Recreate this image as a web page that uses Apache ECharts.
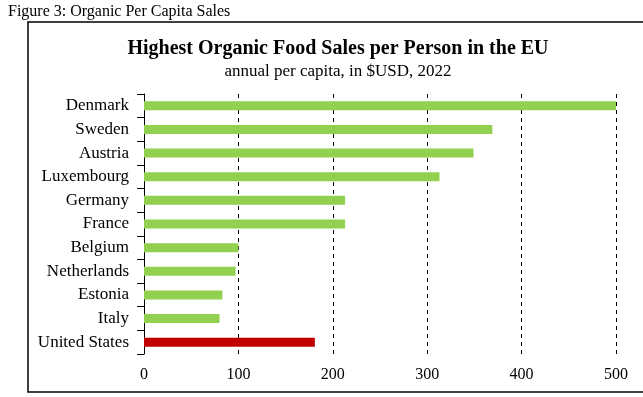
<!DOCTYPE html>
<html>
<head>
<meta charset="utf-8">
<script src="https://cdn.jsdelivr.net/npm/echarts@6/dist/echarts.min.js"></script>
<style>
html,body{margin:0;padding:0;background:#fff;}
#chart{width:643px;height:397px;}
</style>
</head>
<body>
<div id="chart"></div>
<script>
var categories = ["Denmark","Sweden","Austria","Luxembourg","Germany","France","Belgium","Netherlands","Estonia","Italy","United States"];
var sales = [500, 369, 349, 313, 213, 213, 100, 97, 83, 80, 181];
var barColors = ["#92D050","#92D050","#92D050","#92D050","#92D050","#92D050","#92D050","#92D050","#92D050","#92D050","#C00000"];
var xTicks = [0, 100, 200, 300, 400, 500];

var serif = "'Liberation Serif', 'Times New Roman', serif";
var chart = echarts.init(document.getElementById('chart'), null, {renderer: 'canvas'});
chart.setOption({
  backgroundColor: '#fff',
  animation: false,
  graphic: [
    {type: 'rect', shape: {x: 28, y: 22, width: 640, height: 370}, style: {fill: 'none', stroke: '#000', lineWidth: 1.5}, z: 0},
    {type: 'text', left: 8, top: 4, style: {text: 'Figure 3: Organic Per Capita Sales', font: '16px ' + serif, fill: '#000'}}
  ],
  title: {
    text: 'Highest Organic Food Sales per Person in the EU',
    subtext: 'annual per capita, in $USD, 2022',
    left: 333, textAlign: 'center', top: 34, itemGap: 4,
    textStyle: {fontFamily: serif, fontWeight: 'bold', fontSize: 20, color: '#000'},
    subtextStyle: {fontFamily: serif, fontSize: 17, color: '#000'}
  },
  grid: {left: 144, right: 27, top: 94, bottom: 43, containLabel: false},
  xAxis: {
    type: 'value', min: 0, max: 500, interval: 100,
    axisLine: {show: false}, axisTick: {show: false},
    axisLabel: {color: '#000', fontFamily: serif, fontSize: 16, margin: 13,
      formatter: function(v){ return xTicks.indexOf(v) >= 0 ? String(v) : ''; }},
    splitLine: {show: true, lineStyle: {color: '#000', type: [4, 4], width: 1}}
  },
  yAxis: {
    type: 'category', data: categories, inverse: true,
    axisLine: {show: true, lineStyle: {color: '#000', width: 1}},
    axisTick: {show: true, length: 7, lineStyle: {color: '#000'}},
    axisLabel: {color: '#000', fontFamily: serif, fontSize: 17, margin: 15}
  },
  series: [{
    type: 'bar', barWidth: 9,
    data: sales.map(function(v, i){ return {value: v, itemStyle: {color: barColors[i]}}; }),
    z: 3
  }]
});
</script>
</body>
</html>
